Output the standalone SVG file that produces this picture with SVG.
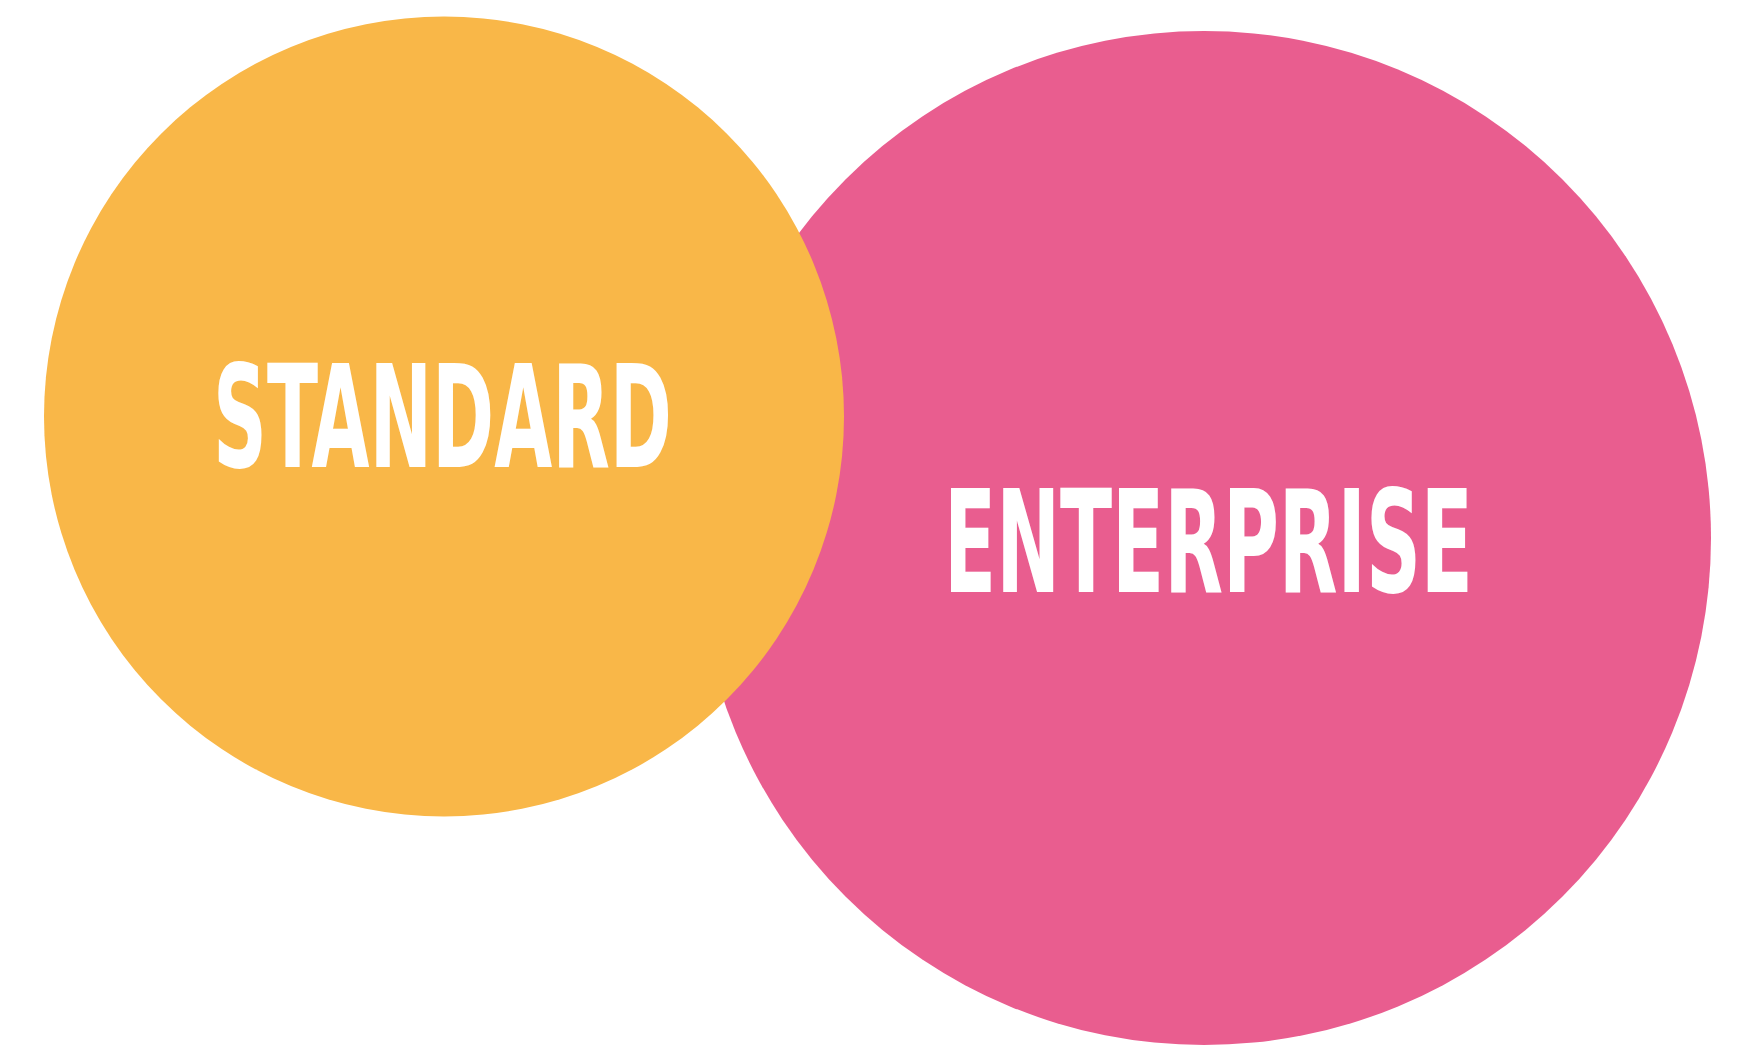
<svg xmlns="http://www.w3.org/2000/svg" width="1737" height="1045" viewBox="0 0 1737 1045">
  <style>
    .label { fill: #ffffff; font-family: "DejaVu Sans Condensed", "Liberation Sans", sans-serif; font-weight: bold; }
  </style>
  <rect width="1737" height="1045" fill="#ffffff"/>
  <g id="enterprise">
    <circle cx="1204" cy="538" r="507" fill="#E95D8F"/>
    <text class="label" x="944" y="591.5" font-size="142" textLength="529" lengthAdjust="spacingAndGlyphs">ENTERPRISE</text>
  </g>
  <g id="standard">
    <circle cx="444" cy="416.5" r="400" fill="#F9B748"/>
    <text class="label" x="213" y="467" font-size="143" textLength="459" lengthAdjust="spacingAndGlyphs">STANDARD</text>
  </g>
  <g id="connectors"/>
</svg>
